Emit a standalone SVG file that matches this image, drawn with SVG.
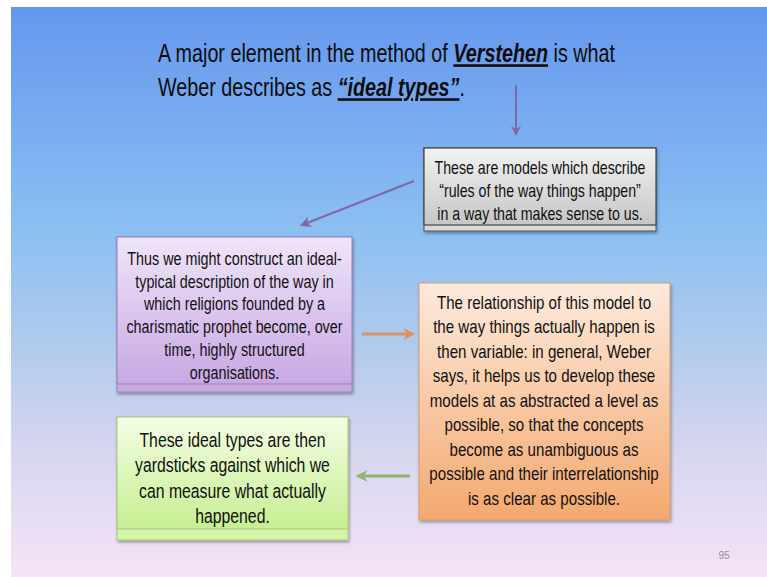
<svg xmlns="http://www.w3.org/2000/svg" width="767" height="577" viewBox="0 0 767 577">
<defs>
<linearGradient id="bg" x1="0" y1="0" x2="0" y2="1">
<stop offset="0" stop-color="#6597EE"/>
<stop offset="0.4" stop-color="#8CC0F2"/>
<stop offset="0.62" stop-color="#B6CCEC"/>
<stop offset="0.78" stop-color="#D6D6F0"/>
<stop offset="1" stop-color="#F5E4F6"/>
</linearGradient>
<linearGradient id="gGray" x1="0" y1="0" x2="0" y2="1">
<stop offset="0" stop-color="#F2F2F2"/>
<stop offset="1" stop-color="#C6C6C6"/>
</linearGradient>
<linearGradient id="gPurple" x1="0" y1="0" x2="0" y2="1">
<stop offset="0" stop-color="#EFE5F8"/>
<stop offset="1" stop-color="#C8A8E4"/>
</linearGradient>
<linearGradient id="gOrange" x1="0" y1="0" x2="0" y2="1">
<stop offset="0" stop-color="#FDEADC"/>
<stop offset="1" stop-color="#F4A86E"/>
</linearGradient>
<linearGradient id="gGreen" x1="0" y1="0" x2="0" y2="1">
<stop offset="0" stop-color="#F5FFE6"/>
<stop offset="1" stop-color="#C6EE92"/>
</linearGradient>
<filter id="sh" x="-10%" y="-10%" width="120%" height="130%">
<feDropShadow dx="1" dy="2" stdDeviation="1.5" flood-color="#000" flood-opacity="0.35"/>
</filter>
<marker id="mPurple" viewBox="0 0 10 10" refX="8" refY="5" markerWidth="5" markerHeight="5" orient="auto">
<path d="M0,0 L10,5 L0,10 L3,5 Z" fill="#8466A8"/>
</marker>
<marker id="mOrange" viewBox="0 0 10 10" refX="8" refY="5" markerWidth="4" markerHeight="4" orient="auto">
<path d="M0,0 L10,5 L0,10 L3,5 Z" fill="#E0925C"/>
</marker>
<marker id="mGreen" viewBox="0 0 10 10" refX="8" refY="5" markerWidth="4" markerHeight="4" orient="auto">
<path d="M0,0 L10,5 L0,10 L3,5 Z" fill="#92B46E"/>
</marker>
</defs>
<style>
.t{font-family:"Liberation Sans",Arial,sans-serif;fill:#111;text-anchor:middle}
.title{font-family:"Liberation Sans",Arial,sans-serif;fill:#0d0d0d;font-size:26px}
.em{font-weight:bold;font-style:italic;text-decoration:underline}
</style>
<rect x="0" y="0" width="767" height="577" fill="#FFFFFF"/>
<rect x="11" y="7" width="756" height="570" fill="url(#bg)"/>

<g id="title">
<g transform="translate(158,0) scale(0.76,1)">
<text class="title" x="0" y="62">A major element in the method of <tspan class="em">Verstehen</tspan> is what</text>
<text class="title" x="0" y="96">Weber describes as <tspan class="em">“ideal types”</tspan>.</text>
</g>
</g>

<g id="connectors" fill="none">
<line x1="516" y1="85" x2="516" y2="134" stroke="#8466A8" stroke-width="2" marker-end="url(#mPurple)"/>
<line x1="414" y1="181" x2="302" y2="225" stroke="#8466A8" stroke-width="2.2" marker-end="url(#mPurple)"/>
<line x1="362" y1="334" x2="413" y2="334" stroke="#E0925C" stroke-width="3" marker-end="url(#mOrange)"/>
<line x1="410" y1="476" x2="358" y2="476" stroke="#92B46E" stroke-width="3" marker-end="url(#mGreen)"/>
</g>

<g id="box-models">
<rect x="424" y="148" width="232" height="83" fill="#D9D9D9" stroke="#555" stroke-width="1" filter="url(#sh)"/>
<rect x="424" y="148" width="232" height="77" fill="url(#gGray)" stroke="#444" stroke-width="1.2"/>
<g transform="translate(540,0) scale(0.81,1)">
<text class="t" font-size="17.5" x="0" y="174">These are models which describe</text>
<text class="t" font-size="17.5" x="0" y="197">“rules of the way things happen”</text>
<text class="t" font-size="17.5" x="0" y="220">in a way that makes sense to us.</text>
</g>
</g>

<g id="box-religions">
<rect x="117" y="237" width="235" height="155" fill="#C7A9E2" stroke="#9A80BC" stroke-width="1" filter="url(#sh)"/>
<rect x="117" y="237" width="235" height="147" fill="url(#gPurple)" stroke="#9A80BC" stroke-width="1"/>
<g transform="translate(234.5,0) scale(0.82,1)">
<text class="t" font-size="17.5" x="0" y="265">Thus we might construct an ideal-</text>
<text class="t" font-size="17.5" x="0" y="288">typical description of the way in</text>
<text class="t" font-size="17.5" x="0" y="310">which religions founded by a</text>
<text class="t" font-size="17.5" x="0" y="333">charismatic prophet become, over</text>
<text class="t" font-size="17.5" x="0" y="356">time, highly structured</text>
<text class="t" font-size="17.5" x="0" y="379">organisations.</text>
</g>
</g>

<g id="box-relationship">
<rect x="419" y="283" width="251" height="237" fill="url(#gOrange)" stroke="#D99A6A" stroke-width="1" filter="url(#sh)"/>
<g transform="translate(544,0) scale(0.84,1)">
<text class="t" font-size="18" x="0" y="309">The relationship of this model to</text>
<text class="t" font-size="18" x="0" y="333.5">the way things actually happen is</text>
<text class="t" font-size="18" x="0" y="358">then variable: in general, Weber</text>
<text class="t" font-size="18" x="0" y="382.5">says, it helps us to develop these</text>
<text class="t" font-size="18" x="0" y="407">models at as abstracted a level as</text>
<text class="t" font-size="18" x="0" y="431.5">possible, so that the concepts</text>
<text class="t" font-size="18" x="0" y="456">become as unambiguous as</text>
<text class="t" font-size="18" x="0" y="480.5">possible and their interrelationship</text>
<text class="t" font-size="18" x="0" y="505">is as clear as possible.</text>
</g>
</g>

<g id="box-yardsticks">
<rect x="117" y="417" width="231" height="123" fill="#D4F4A8" stroke="#A8C880" stroke-width="1" filter="url(#sh)"/>
<rect x="117" y="417" width="231" height="112" fill="url(#gGreen)" stroke="#A8C880" stroke-width="1"/>
<g transform="translate(232.5,0) scale(0.81,1)">
<text class="t" font-size="19.5" x="0" y="447">These ideal types are then</text>
<text class="t" font-size="19.5" x="0" y="472.5">yardsticks against which we</text>
<text class="t" font-size="19.5" x="0" y="498">can measure what actually</text>
<text class="t" font-size="19.5" x="0" y="523.5">happened.</text>
</g>
</g>

<g id="page-number">
<text x="724" y="559" font-family="Liberation Sans, Arial, sans-serif" font-size="10" fill="#8E8EA0" text-anchor="middle">95</text>
</g>
</svg>
